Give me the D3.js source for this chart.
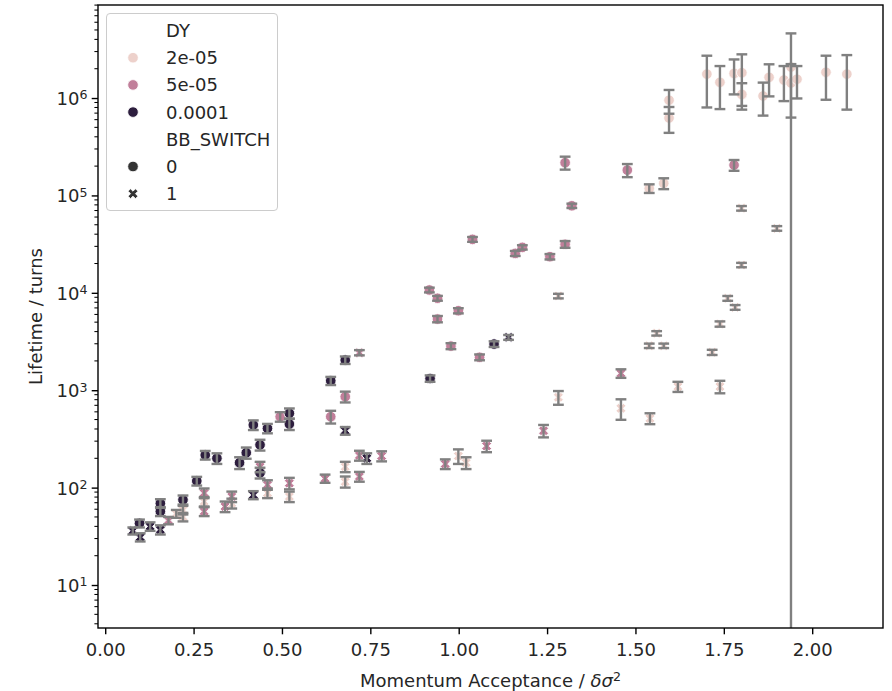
<!DOCTYPE html>
<html><head><meta charset="utf-8">
<script src="https://cdn.jsdelivr.net/npm/d3@7"></script>
<style>body{margin:0;background:#fff}svg{font-family:"DejaVu Sans",sans-serif;display:block}</style>
</head><body><svg id="c" width="892" height="691"></svg>
<script>
// ---- data ----
const xTicks = [0, 0.25, 0.5, 0.75, 1.0, 1.25, 1.5, 1.75, 2.0];
const yTicks = [1e1, 1e2, 1e3, 1e4, 1e5, 1e6];
const dyLevels = ["2e-05", "5e-05", "0.0001"];
const dyColors = ["#edd1cb", "#c17f9a", "#2d1e3e"];
const bbLevels = ["0", "1"];

// DY = 2e-05, BB_SWITCH = 0
const lightCircX = [1.539, 1.580, 1.595, 1.595, 1.702, 1.739, 1.779, 1.801, 1.801, 1.861, 1.878, 1.920, 1.940, 1.940, 1.957, 2.039, 2.098];
const lightCircY = [118000, 133000, 950000, 624000, 1760000, 1450000, 1790000, 1820000, 1090000, 1050000, 1630000, 1530000, 2080000, 1430000, 1560000, 1840000, 1760000];
const lightCircE = [12000, 17000, 260000, 185000, 960000, 680000, 700000, 990000, 330000, 390000, 590000, 600000, 2530000, 800000, 570000, 880000, 1000000];
// DY = 2e-05, BB_SWITCH = 1
const lightXX = [0.201, 0.220, 0.220, 0.280, 0.358, 0.459, 0.521, 0.679, 0.679, 0.999, 1.021, 1.282, 1.282, 1.459, 1.539, 1.541, 1.560, 1.580, 1.620, 1.717, 1.739, 1.739, 1.761, 1.782, 1.800, 1.800, 1.900];
const lightXY = [54, 59, 50, 72, 69, 88, 81, 164, 115, 211, 180, 845, 9270, 652, 2860, 514, 3840, 2860, 1090, 2450, 4790, 1090, 8780, 7090, 19300, 73800, 45900];
const lightXE = [5, 6, 5, 8, 8, 10, 10, 20, 15, 36, 25, 136, 500, 155, 150, 66, 200, 150, 130, 150, 300, 160, 500, 400, 1000, 4000, 2500];
// DY = 5e-05, BB_SWITCH = 0
const midCircX = [0.495, 0.638, 0.679, 0.917, 0.940, 0.940, 0.978, 0.999, 1.039, 1.059, 1.160, 1.180, 1.258, 1.301, 1.301, 1.320, 1.477, 1.779];
const midCircY = [535, 535, 858, 10700, 8800, 5380, 2840, 6550, 35400, 2180, 25400, 29300, 23500, 31500, 217000, 78300, 182000, 205000];
const midCircE = [60, 80, 109, 600, 500, 400, 200, 400, 2000, 150, 1500, 1500, 1500, 2500, 33000, 4000, 28000, 26000];
// DY = 5e-05, BB_SWITCH = 1
const midXX = [0.179, 0.280, 0.280, 0.339, 0.358, 0.438, 0.459, 0.521, 0.622, 0.719, 0.719, 0.719, 0.782, 0.962, 1.079, 1.240, 1.459];
const midXY = [46, 88, 57, 64, 81, 164, 107, 111, 124, 2430, 214, 130, 211, 175, 267, 384, 1490];
const midXE = [4, 10, 6, 8, 10, 20, 12, 15, 12, 150, 25, 15, 25, 20, 36, 56, 150];
// DY = 0.0001, BB_SWITCH = 0
const darkCircX = [0.097, 0.156, 0.156, 0.220, 0.259, 0.283, 0.316, 0.380, 0.399, 0.419, 0.438, 0.438, 0.459, 0.521, 0.521, 0.638, 0.679, 0.919, 1.100];
const darkCircY = [43, 69, 57, 75, 117, 216, 200, 180, 228, 440, 275, 142, 406, 580, 450, 1250, 2040, 1320, 2980];
const darkCircE = [4, 7, 6, 8, 12, 22, 25, 25, 30, 50, 35, 18, 45, 70, 60, 120, 180, 100, 200];
// DY = 0.0001, BB_SWITCH = 1
const darkXX = [0.078, 0.099, 0.127, 0.156, 0.419, 0.679, 0.740, 1.141];
const darkXY = [36, 31, 40, 37, 84, 384, 200, 3490];
const darkXE = [3, 3, 4, 4, 8, 35, 25, 200];

const series = [
  {dy: 0, bb: 0, xs: lightCircX, ys: lightCircY, es: lightCircE},
  {dy: 0, bb: 1, xs: lightXX, ys: lightXY, es: lightXE},
  {dy: 1, bb: 0, xs: midCircX, ys: midCircY, es: midCircE},
  {dy: 1, bb: 1, xs: midXX, ys: midXY, es: midXE},
  {dy: 2, bb: 0, xs: darkCircX, ys: darkCircY, es: darkCircE},
  {dy: 2, bb: 1, xs: darkXX, ys: darkXY, es: darkXE}
];

// ---- layout ----
const W = 892, H = 691;
const L = 98, R = 883, T = 5, B = 628;
const FS = 18, FSS = 12.6;
const x = d3.scaleLinear().domain([-0.0204, 2.2003]).range([L, R]);
const y = d3.scaleLog().domain([3.62, 9.02e6]).range([B, T]);

const svg = d3.select("#c");
svg.append("rect").attr("width", W).attr("height", H).attr("fill", "#fff");
svg.append("defs").append("clipPath").attr("id", "clip")
  .append("rect").attr("x", L).attr("y", T).attr("width", R - L).attr("height", B - T);

const plot = svg.append("g").attr("clip-path", "url(#clip)");

const xSym = d3.symbol().type(d3.symbolCross).size(62);
function drawMarker(g, px, py, color, bb) {
  if (bb === 0) {
    g.append("circle").attr("cx", px).attr("cy", py).attr("r", 5.3)
      .attr("fill", color).attr("stroke", "#fff").attr("stroke-width", 0.85);
  } else {
    g.append("path").attr("d", xSym())
      .attr("transform", `translate(${px},${py}) rotate(45)`)
      .attr("fill", color).attr("stroke", "#fff").attr("stroke-width", 0.85);
  }
}

// markers
const mg = plot.append("g");
series.forEach(s => {
  s.xs.forEach((xv, i) => drawMarker(mg, x(xv), y(s.ys[i]), dyColors[s.dy], s.bb));
});

// error bars on top
const eg = plot.append("g").attr("stroke", "#808080").attr("stroke-width", 2.4).attr("fill", "none");
const cap = 5.4;
series.forEach(s => {
  s.xs.forEach((xv, i) => {
    const v = s.ys[i], e = s.es[i];
    const px = x(xv);
    const top = y(v + e);
    const low = v - e;
    const bot = low > 0 ? y(low) : B + 20;
    eg.append("line").attr("x1", px).attr("x2", px).attr("y1", top).attr("y2", bot);
    eg.append("line").attr("x1", px - cap).attr("x2", px + cap).attr("y1", top).attr("y2", top);
    if (low > 0) eg.append("line").attr("x1", px - cap).attr("x2", px + cap).attr("y1", bot).attr("y2", bot);
  });
});

// axes
const xAxis = svg.append("g").attr("transform", `translate(0,${B})`)
  .call(d3.axisBottom(x).tickValues(xTicks).tickFormat(d3.format(".2f")).tickSize(6.3).tickSizeOuter(0));
xAxis.select(".domain").remove();
xAxis.selectAll(".tick line").attr("stroke", "#000").attr("stroke-width", 1.4);
xAxis.selectAll(".tick text").attr("y", 28).attr("dy", 0).attr("font-size", FS)
  .attr("fill", "#262626").attr("font-family", "DejaVu Sans");

const yAxis = svg.append("g").attr("transform", `translate(${L},0)`)
  .call(d3.axisLeft(y).tickValues(yTicks).tickFormat("").tickSize(6.3).tickSizeOuter(0));
yAxis.select(".domain").remove();
yAxis.selectAll(".tick line").attr("stroke", "#000").attr("stroke-width", 1.4);
yAxis.selectAll(".tick text").each(function(d) {
  const t = d3.select(this).attr("x", -10.5).attr("dy", "0.36em").attr("font-size", FS)
    .attr("fill", "#262626").attr("font-family", "DejaVu Sans");
  t.text("");
  t.append("tspan").text("10");
  t.append("tspan").attr("dy", "-0.45em").attr("font-size", FSS).text(Math.round(Math.log10(d)));
});
// minor ticks
const minor = [];
for (let k = 0; k <= 6; k++) for (let m = 2; m <= 9; m++) {
  const v = m * Math.pow(10, k);
  if (v >= y.domain()[0] && v <= y.domain()[1]) minor.push(v);
}
svg.append("g").selectAll("line").data(minor).join("line")
  .attr("x1", L - 3.6).attr("x2", L).attr("y1", d => y(d)).attr("y2", d => y(d))
  .attr("stroke", "#000").attr("stroke-width", 1.05);

// frame
svg.append("rect").attr("x", L).attr("y", T).attr("width", R - L).attr("height", B - T)
  .attr("fill", "none").attr("stroke", "#000").attr("stroke-width", 1.4);

// axis labels
const xl = svg.append("text").attr("x", (L + R) / 2).attr("y", 686.5).attr("text-anchor", "middle")
  .attr("font-size", FS).attr("fill", "#262626");
xl.append("tspan").text("Momentum Acceptance / ");
xl.append("tspan").attr("font-style", "italic").text("δσ");
xl.append("tspan").attr("dy", "-0.45em").attr("font-size", FSS).text("2");

svg.append("text").attr("transform", `translate(41.5,${(T + B) / 2}) rotate(-90)`)
  .attr("text-anchor", "middle").attr("font-size", FS).attr("fill", "#262626")
  .text("Lifetime / turns");

// legend
const lg = svg.append("g");
lg.append("rect").attr("x", 106.5).attr("y", 13.5).attr("width", 171).attr("height", 197)
  .attr("rx", 3.5).attr("fill", "#fff").attr("fill-opacity", 0.8).attr("stroke", "#cccccc");
const rows = [
  {label: "DY", m: null},
  {label: dyLevels[0], m: {c: dyColors[0], bb: 0}},
  {label: dyLevels[1], m: {c: dyColors[1], bb: 0}},
  {label: dyLevels[2], m: {c: dyColors[2], bb: 0}},
  {label: "BB_SWITCH", m: null},
  {label: bbLevels[0], m: {c: "#333333", bb: 0}},
  {label: bbLevels[1], m: {c: "#333333", bb: 1}}
];
rows.forEach((r, i) => {
  const cy = 30.5 + i * 27.2;
  if (r.m) drawMarker(lg, 133, cy, r.m.c, r.m.bb);
  lg.append("text").attr("x", 166).attr("y", cy).attr("dy", "0.36em")
    .attr("font-size", FS).attr("fill", "#262626").text(r.label);
});
</script></body></html>
